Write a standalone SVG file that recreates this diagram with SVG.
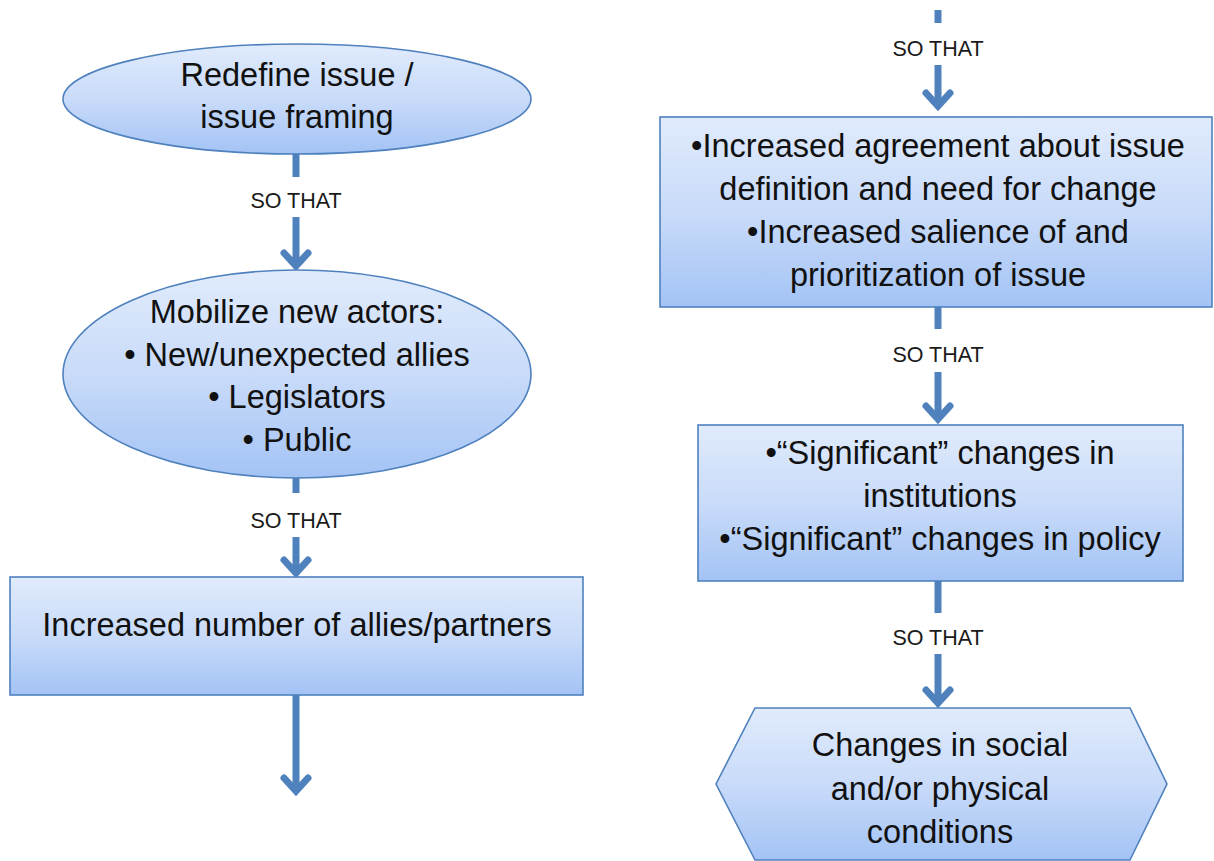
<svg xmlns="http://www.w3.org/2000/svg" width="1214" height="861" viewBox="0 0 1214 861">
  <defs>
    <linearGradient id="fillGrad" x1="0" y1="0" x2="0" y2="1">
      <stop offset="0" stop-color="#e0ebfc"/>
      <stop offset="0.5" stop-color="#c9dbf9"/>
      <stop offset="1" stop-color="#a3c3f5"/>
    </linearGradient>
    <marker id="ah" markerUnits="userSpaceOnUse" markerWidth="40" markerHeight="40" viewBox="-20 -20 40 40" refX="0" refY="0" orient="auto" overflow="visible">
      <path d="M -13 -12 L 0 0 L -13 12" fill="none" stroke="#4f81bd" stroke-width="7" stroke-linecap="round" stroke-linejoin="miter"/>
    </marker>
    <style>
      .shape { fill: url(#fillGrad); stroke: #4f81bd; stroke-width: 1.6; }
      .t { font-family: "Liberation Sans", Arial, sans-serif; font-size: 32.5px; fill: #111111; text-anchor: middle; }
      .lbl { font-family: "Liberation Sans", Arial, sans-serif; font-size: 21.5px; fill: #1a1a1a; text-anchor: middle; }
      .ln { stroke: #4f81bd; stroke-width: 7; fill: none; }
      .arr { stroke: #4f81bd; stroke-width: 7; fill: none; marker-end: url(#ah); }
    </style>
  </defs>
  <rect width="1214" height="861" fill="#ffffff"/>

  <g id="connectors">
    <line class="ln" x1="296" y1="153" x2="296" y2="177"/>
    <line class="arr" x1="296" y1="217" x2="296" y2="266"/>
    <line class="ln" x1="296" y1="478" x2="296" y2="493"/>
    <line class="arr" x1="296" y1="537" x2="296" y2="573"/>
    <line class="arr" x1="296" y1="695" x2="296" y2="791"/>
    <line class="ln" x1="938" y1="10" x2="938" y2="23"/>
    <line class="arr" x1="938" y1="65" x2="938" y2="106"/>
    <line class="ln" x1="938" y1="307" x2="938" y2="329"/>
    <line class="arr" x1="938" y1="372" x2="938" y2="419"/>
    <line class="ln" x1="938" y1="581" x2="938" y2="613"/>
    <line class="arr" x1="938" y1="654" x2="938" y2="703"/>
    <text class="lbl" x="296" y="208">SO THAT</text>
    <text class="lbl" x="296" y="528">SO THAT</text>
    <text class="lbl" x="938" y="56">SO THAT</text>
    <text class="lbl" x="938" y="362">SO THAT</text>
    <text class="lbl" x="938" y="645">SO THAT</text>
  </g>

  <g id="node-redefine">
    <ellipse class="shape" cx="297" cy="99" rx="234" ry="55"/>
    <text class="t" x="297" y="86">Redefine issue /</text>
    <text class="t" x="297" y="128">issue framing</text>
  </g>

  <g id="node-mobilize">
    <ellipse class="shape" cx="297" cy="374" rx="234" ry="104"/>
    <text class="t" x="297" y="323">Mobilize new actors:</text>
    <text class="t" x="297" y="366">• New/unexpected allies</text>
    <text class="t" x="297" y="408">• Legislators</text>
    <text class="t" x="297" y="451">• Public</text>
  </g>

  <g id="node-allies">
    <rect class="shape" x="10" y="577" width="573" height="118"/>
    <text class="t" x="297" y="636">Increased number of allies/partners</text>
  </g>

  <g id="node-agreement">
    <rect class="shape" x="660" y="117" width="552" height="190"/>
    <text class="t" x="938" y="157">•Increased agreement about issue</text>
    <text class="t" x="938" y="200">definition and need for change</text>
    <text class="t" x="938" y="243">•Increased salience of and</text>
    <text class="t" x="938" y="286">prioritization of issue</text>
  </g>

  <g id="node-significant">
    <rect class="shape" x="698" y="425" width="485" height="156"/>
    <text class="t" x="940" y="464">•“Significant” changes in</text>
    <text class="t" x="940" y="507">institutions</text>
    <text class="t" x="940" y="550">•“Significant” changes in policy</text>
  </g>

  <g id="node-conditions">
    <polygon class="shape" points="755,708 1130,708 1167,784 1130,860 755,860 716,784"/>
    <text class="t" x="940" y="756">Changes in social</text>
    <text class="t" x="940" y="800">and/or physical</text>
    <text class="t" x="940" y="843">conditions</text>
  </g>
</svg>
